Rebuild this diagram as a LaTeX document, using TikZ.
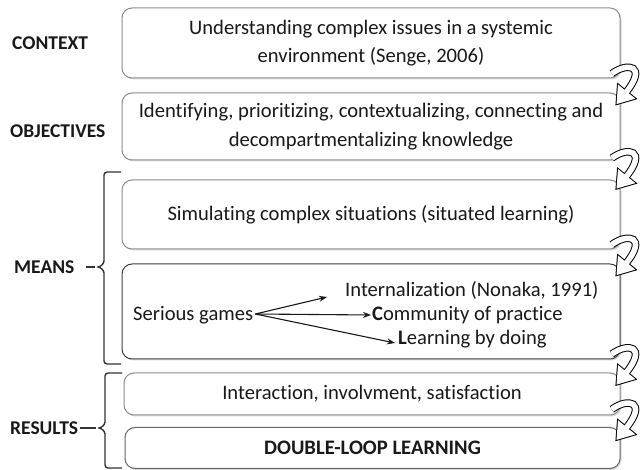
\documentclass[tikz,border=0pt]{standalone}
\usepackage{fontspec}
\setmainfont[Ligatures={NoCommon}]{Carlito}
\usetikzlibrary{shadows,arrows.meta,calc}
\begin{document}
\begin{tikzpicture}[x=1pt,y=-1pt,
  box/.style={draw=black!45, line width=1pt, rounded corners=10pt, fill=white,
    drop shadow={opacity=0.3, shadow xshift=1.5pt, shadow yshift=-1.5pt},
    align=center, font=\fontsize{20.6}{28.5}\selectfont, text=black!90, inner sep=0pt},
  lab/.style={font=\fontsize{19.5}{22}\selectfont\bfseries, anchor=west, text=black!90, inner sep=0pt},
  txt/.style={font=\fontsize{20.6}{24}\selectfont, text=black!90, inner sep=0pt, anchor=west},
  brace/.style={line width=1.4pt, draw=black!80},
  sarrow/.style={line width=1.1pt, draw=black!90, -{Stealth[length=8pt,width=6pt]}},
  uturn/.pic={
    \begin{scope}[scale=1.25]
    \draw[line width=7.5pt, black] (-7,-9.5) .. controls (6,-19) and (22,-16) .. (4,6);
    \filldraw[black, line width=2pt, line join=miter] (11.9,10.5) -- (-2.0,-0.8) -- (-3.2,14.9) -- cycle;
    \draw[line width=5.5pt, white] (-7,-9.5) .. controls (6,-19) and (22,-16) .. (4,6);
    \fill[white] (11.9,10.5) -- (-2.0,-0.8) -- (-3.2,14.9) -- cycle;
    \end{scope}
  }
]
\useasboundingbox[fill=white] (0,0) rectangle (641,470);

% labels
\node[lab] (lctx) at (12,43) {CONTEXT};
\node[lab] (lobj) at (10,131) {OBJECTIVES};
\node[lab] (lmea) at (14,267) {MEANS};
\node[lab] (lres) at (10,428) {RESULTS};

% boxes
\node[box, minimum width=498, minimum height=70] (b1) at (371,43)
  {Understanding complex issues in a systemic\\environment (Senge, 2006)};
\node[box, minimum width=498, minimum height=67] (b2) at (371,126.5)
  {Identifying, prioritizing, contextualizing, connecting and\\decompartmentalizing knowledge};
\node[box, minimum width=498, minimum height=69] (b3) at (371,214.5)
  {Simulating complex situations (situated learning)};
\node[box, draw=black!75, minimum width=498, minimum height=95] (b4) at (371,311.5) {};
\node[box, minimum width=496, minimum height=42] (b5) at (372,394)
  {Interaction, involvment, satisfaction};
\node[box, draw=black!60, minimum width=495, minimum height=41] (b6) at (372.5,448)
  {\bfseries DOUBLE-LOOP LEARNING};

% box 4 content
\node[txt] (sg) at (133,315) {Serious games};
\node[txt] (int) at (345,290) {Internalization (Nonaka, 1991)};
\node[txt] (com) at (372,315) {\textbf{C}ommunity of practice};
\node[txt] (lbd) at (398,339) {\textbf{L}earning by doing};
\coordinate (sgo) at ($(sg.east)+(2,-1)$);
\coordinate (a1) at (327,297);
\coordinate (a3) at (395,343);
\draw[sarrow] (sgo) -- (a1);
\draw[sarrow] (sgo) -- ($(com.west)+(-1,0)$);
\draw[sarrow] (sgo) -- (a3);

% braces
\coordinate (mtip) at (95,267);
\draw[brace, rounded corners=3pt] (121,172) -- (104,172) -- (104,258)
  .. controls (104,264) and (100,267) .. (mtip)
  .. controls (100,267) and (104,270) .. (104,276) -- (104,364) -- (121,364);
\draw[brace] ($(lmea.east)+(11,0)$) -- (mtip);
\coordinate (rtip) at (96,428);
\draw[brace, rounded corners=3pt] (122,373) -- (105,373) -- (105,419)
  .. controls (105,425) and (101,428) .. (rtip)
  .. controls (101,428) and (105,431) .. (105,437) -- (105,468) -- (122,468);
\draw[brace] ($(lres.east)+(2,0)$) -- (rtip);

% curved arrows
\pic at ($(b1.south east)!.5!(b2.north east)$) {uturn};
\pic at ($(b2.south east)!.5!(b3.north east)$) {uturn};
\pic at ($(b3.south east)!.5!(b4.north east)$) {uturn};
\pic at ($(b4.south east)!.5!(b5.north east)$) {uturn};
\pic at ($(b5.south east)!.5!(b6.north east)$) {uturn};
\end{tikzpicture}
\end{document}
